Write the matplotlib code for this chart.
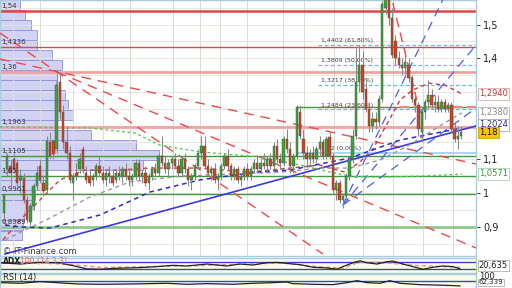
import matplotlib
matplotlib.use("Agg")
import matplotlib.pyplot as plt

# weekly candles
opens = [0.94, 1.07, 1.08, 1.10, 1.09, 1.04, 1.045, 0.98, 0.915, 0.96,
         1.02, 1.08, 1.03, 1.01, 1.15, 1.155, 1.13, 1.33, 1.24, 1.15,
         1.12, 1.03, 1.06, 1.07, 1.13, 1.06, 1.05, 1.04, 1.05, 1.08,
         1.06, 1.04, 1.06, 1.05, 1.04, 1.06, 1.05, 1.07, 1.05, 1.04,
         1.05, 1.09, 1.05, 1.06, 1.03, 1.05, 1.07, 1.06, 1.11, 1.09,
         1.07, 1.09, 1.10, 1.08, 1.06, 1.10, 1.07, 1.04, 1.05, 1.08,
         1.12, 1.14, 1.08, 1.06, 1.07, 1.04, 1.05, 1.08, 1.11, 1.08,
         1.05, 1.07, 1.04, 1.05, 1.07, 1.05, 1.07, 1.09, 1.07, 1.09,
         1.08, 1.10, 1.08, 1.14, 1.10, 1.09, 1.16, 1.13, 1.08, 1.11,
         1.24, 1.16, 1.12, 1.10, 1.12, 1.10, 1.13, 1.15, 1.11, 1.165,
         1.11, 1.01, 1.03, 0.98, 0.99, 1.05, 1.10, 1.17, 1.33, 1.38,
         1.31, 1.25, 1.20, 1.22, 1.21, 1.28, 1.55, 1.58, 1.52, 1.45,
         1.40, 1.38, 1.37, 1.38, 1.34, 1.28, 1.26, 1.18, 1.24, 1.27,
         1.29, 1.26, 1.27, 1.25, 1.27, 1.25, 1.26, 1.19, 1.16, 1.17]
highs = [1.00, 1.12, 1.10, 1.12, 1.10, 1.07, 1.06, 0.99, 0.97, 1.03,
         1.08, 1.10, 1.05, 1.17, 1.18, 1.16, 1.36, 1.36, 1.26, 1.20,
         1.14, 1.06, 1.09, 1.12, 1.14, 1.08, 1.07, 1.06, 1.09, 1.11,
         1.08, 1.07, 1.08, 1.07, 1.07, 1.08, 1.08, 1.09, 1.07, 1.06,
         1.10, 1.10, 1.07, 1.08, 1.06, 1.08, 1.09, 1.12, 1.17, 1.11,
         1.10, 1.11, 1.12, 1.10, 1.11, 1.12, 1.08, 1.06, 1.09, 1.13,
         1.17, 1.17, 1.10, 1.08, 1.09, 1.06, 1.09, 1.12, 1.13, 1.09,
         1.08, 1.08, 1.06, 1.08, 1.09, 1.08, 1.10, 1.11, 1.10, 1.12,
         1.11, 1.12, 1.15, 1.16, 1.12, 1.17, 1.19, 1.15, 1.12, 1.26,
         1.26, 1.19, 1.14, 1.13, 1.14, 1.14, 1.17, 1.16, 1.17, 1.18,
         1.12, 1.04, 1.04, 1.00, 1.06, 1.11, 1.19, 1.43, 1.44, 1.42,
         1.34, 1.27, 1.24, 1.24, 1.29, 1.57, 1.61, 1.60, 1.55, 1.47,
         1.42, 1.40, 1.42, 1.40, 1.35, 1.30, 1.27, 1.25, 1.28, 1.335,
         1.31, 1.29, 1.29, 1.28, 1.28, 1.27, 1.27, 1.21, 1.20, 1.19]
lows = [0.91, 1.05, 1.02, 1.06, 1.02, 1.00, 0.97, 0.91, 0.905, 0.95,
        1.01, 1.03, 0.99, 1.00, 1.10, 1.10, 1.12, 1.22, 1.13, 1.10,
        1.03, 0.98, 1.04, 1.06, 1.06, 1.03, 1.02, 1.02, 1.04, 1.05,
        1.03, 1.02, 1.03, 1.02, 1.03, 1.04, 1.03, 1.04, 1.02, 1.02,
        1.04, 1.04, 1.03, 1.02, 1.01, 1.04, 1.05, 1.05, 1.08, 1.06,
        1.05, 1.07, 1.07, 1.05, 1.05, 1.06, 1.02, 1.01, 1.04, 1.07,
        1.10, 1.07, 1.05, 1.04, 1.03, 1.01, 1.04, 1.07, 1.07, 1.04,
        1.04, 1.03, 1.02, 1.04, 1.04, 1.04, 1.06, 1.06, 1.06, 1.07,
        1.06, 1.07, 1.07, 1.09, 1.07, 1.08, 1.12, 1.06, 1.06, 1.10,
        1.16, 1.10, 1.08, 1.08, 1.09, 1.09, 1.11, 1.10, 1.10, 1.10,
        1.00, 0.98, 0.97, 0.955, 0.98, 1.04, 1.09, 1.16, 1.30, 1.28,
        1.24, 1.18, 1.18, 1.19, 1.20, 1.27, 1.53, 1.50, 1.40, 1.38,
        1.37, 1.35, 1.35, 1.33, 1.27, 1.24, 1.17, 1.15, 1.22, 1.25,
        1.25, 1.24, 1.24, 1.24, 1.24, 1.24, 1.18, 1.15, 1.13, 1.16]
closes = [0.995, 1.11, 1.06, 1.07, 1.03, 1.05, 0.98, 0.92, 0.96, 1.02,
          1.06, 1.04, 1.005, 1.155, 1.11, 1.115, 1.32, 1.24, 1.15, 1.12,
          1.04, 1.05, 1.05, 1.10, 1.07, 1.04, 1.03, 1.05, 1.08, 1.06,
          1.04, 1.06, 1.05, 1.03, 1.06, 1.05, 1.07, 1.05, 1.04, 1.05,
          1.09, 1.05, 1.06, 1.03, 1.05, 1.07, 1.06, 1.11, 1.09, 1.07,
          1.09, 1.10, 1.08, 1.06, 1.10, 1.07, 1.04, 1.05, 1.08, 1.12,
          1.14, 1.08, 1.06, 1.07, 1.04, 1.05, 1.08, 1.11, 1.08, 1.05,
          1.07, 1.04, 1.05, 1.07, 1.05, 1.07, 1.09, 1.07, 1.09, 1.08,
          1.10, 1.08, 1.14, 1.10, 1.09, 1.16, 1.13, 1.08, 1.11, 1.255,
          1.17, 1.12, 1.10, 1.12, 1.10, 1.13, 1.15, 1.11, 1.16, 1.11,
          1.01, 1.03, 0.98, 0.99, 1.05, 1.10, 1.17, 1.33, 1.38, 1.30,
          1.25, 1.20, 1.22, 1.21, 1.28, 1.56, 1.59, 1.52, 1.41, 1.40,
          1.38, 1.37, 1.39, 1.34, 1.28, 1.26, 1.19, 1.24, 1.27, 1.29,
          1.26, 1.27, 1.25, 1.27, 1.25, 1.26, 1.19, 1.16, 1.17, 1.18]

# volume profile (price bins, relative volume)
vp_low = [1.543, 1.514, 1.484, 1.454, 1.424, 1.395, 1.365, 1.335, 1.306, 1.276,
          1.246, 1.217, 1.187, 1.157, 1.128, 1.098, 1.068, 1.039, 1.009, 0.979,
          0.950, 0.920, 0.890, 0.860]
vp_vol = [20, 25, 31, 37, 37, 52, 62, 57, 56, 65, 68, 73, 55, 91, 136, 159, 143,
          47, 45, 35, 33, 24, 23, 22]
vp_step = 0.0297

# horizontal levels
red_levels = [1.54, 1.4336]
pink_levels = [1.36, 1.1963]
green_levels = [1.1105, 1.05, 0.9961]
green_wide = 0.8989
level_txt = ["1,54", "1,4336", "1,36", "1,1963", "1,1105", "1,05", "0,9961", "0,8989"]
level_val = [1.54, 1.4336, 1.36, 1.1963, 1.1105, 1.05, 0.9961, 0.8989]

# fibonacci retracement
fib_val = [1.4402, 1.3809, 1.3217, 1.2484]
fib_txt = ["1,4402 (61,80%)", "1,3809 (50,00%)", "1,3217 (38,20%)", "1,2484 (23,60%)"]
fib_zero = 1.12
fib_start, fib_zero_start = 95.4, 89
resist_green, resist_start = 1.2565, 89
resist_pink, pink_start = 1.254, 120.4

# drawn trend lines ((x0, y0), (x1, y1))
red_fan = [((-1.22, 1.3976), (143.5, 1.086)),
           ((-1.22, 1.4748), (96.96, 0.819)),
           ((16.1, 1.359), (143.5, 0.837))]
red_steep = ((118.2, 1.564), (125.5, 1.276))
blue_trend = ((0.3, 0.819), (143.5, 1.199))
gann = [((103, 0.964), (133.4, 1.573)),
        ((103, 0.964), (143.5, 1.439)),
        ((103, 0.964), (143.5, 1.252))]

# moving averages (index, price)
ma_red_x = [-0.3, 4.9, 10.9, 17, 24.6, 34.3, 44.4, 59.6, 74.8, 86.9, 96, 103.6,
            108.2, 112.2, 117.3, 120.4, 124.3, 129.2, 134.1, 139.2]
ma_red_y = [0.861, 0.920, 0.979, 1.039, 1.068, 1.068, 1.074, 1.074, 1.062, 1.074,
            1.083, 1.062, 1.092, 1.131, 1.220, 1.276, 1.306, 1.326, 1.320, 1.294]
ma_gray_x = [0.3, 14, 26.1, 38.3, 53.5, 68.7, 83.9, 96, 105.2, 114.3, 123.4, 132.5, 139.2]
ma_gray_y = [0.861, 0.926, 0.988, 1.033, 1.050, 1.056, 1.062, 1.074, 1.074, 1.098,
             1.143, 1.199, 1.238]
ma_blue_x = [0.3, 5, 14, 29.2, 44.4, 59.6, 76.6, 86.9, 105.2, 120.4, 139.2]
ma_blue_y = [0.905, 0.899, 0.896, 0.935, 1.003, 1.039, 1.062, 1.068, 1.104, 1.157, 1.193]
ma_green_x = [-1.22, 26.1, 39.8, 47.4, 59.6, 77.8, 90, 99.1, 105.2, 114.3, 126.5, 139.2]
ma_green_y = [1.196, 1.193, 1.178, 1.142, 1.122, 1.107, 1.083, 1.062, 1.050, 1.047,
              1.050, 1.056]

# ADX panel
adx_x = [-1.2, 4.9, 10.9, 16.1, 20.1, 25.2, 29.2, 34.3, 41.3, 46.5, 51.4, 55.6,
         61.7, 67.8, 71.7, 75.7, 79.9, 83, 86, 90, 94, 98.2, 101.2, 103, 106.1,
         108.2, 110.3, 113.4, 116.4, 118.2, 121.3, 124.3, 127.4, 130.4, 133.4,
         136.5, 138.6]
adx_y = [38.1, 34.3, 39.0, 38.1, 31.4, 20.0, 19.0, 21.9, 23.8, 26.7, 30.5, 28.6,
         34.3, 28.6, 34.3, 31.4, 38.1, 39.0, 36.2, 32.4, 24.8, 22.9, 19.0, 26.7,
         38.1, 43.8, 38.1, 34.3, 41.0, 42.9, 34.3, 26.7, 19.0, 24.8, 28.6, 26.7,
         20.6]
di_x = [-1.2, 10, 20, 30, 45, 60, 75, 85, 95, 103, 108, 116, 125, 133, 138.6]
di_y = [36, 40, 33, 24, 27, 30, 35, 37, 27, 22, 40, 38, 30, 27, 25]

# RSI panel
rsi_x = [-1.2, 4.9, 10.9, 16.1, 22.2, 29.2, 39.2, 49.5, 55.6, 61.7, 69.6, 75.7,
         81.8, 86, 87.8, 94, 100, 104.3, 107.3, 110.3, 114.3, 117.3, 120.4,
         126.4, 130.4, 135.6, 138.6]
rsi_y = [74.8, 72.3, 78.6, 74.8, 69.8, 68.5, 69.8, 72.3, 68.5, 71, 68.5, 72.3,
         74.8, 77.3, 71, 68.5, 67.2, 74.8, 82.3, 74.8, 72.3, 82.3, 72.3, 67.2,
         66, 64, 62.3]

vgrid = [2.7, 10.9, 21, 30.1, 38.3, 51.4, 59.6, 65.7, 73.9, 84.8, 91.2, 100.3,
         109.1, 118.2, 127.4, 136.5]
hgrid = [0.85, 0.9, 0.95, 1.0, 1.05, 1.1, 1.15, 1.2, 1.25, 1.3, 1.35, 1.4, 1.45, 1.5, 1.55]

W, H = 512, 288
XLIM = (-1.22, 143.5)
YLIM = (0.8131, 1.5727)
fig = plt.figure(figsize=(W / 100, H / 100), dpi=100, facecolor="white")


def box(x0, y0, x1, y1):
    return [x0 / W, 1 - y1 / H, (x1 - x0) / W, (y1 - y0) / H]


def frame(a):
    for s in a.spines.values():
        s.set_color("#a9cbdc")
        s.set_linewidth(1.0)


# volume profile sits under the price axes
axv = fig.add_axes(box(0, 0, 476, 256), facecolor="#fbfbec")
axv.set_xlim(0, 476)
axv.set_ylim(*YLIM)
axv.barh(vp_low, vp_vol, height=vp_step * 0.96, left=0, align="edge",
         color="#d2d2f5", edgecolor="#8f8fd6", linewidth=0.6)
axv.axis("off")

ax = fig.add_axes(box(0, 0, 476, 256))
ax.patch.set_visible(False)
ax.set_xlim(*XLIM)
ax.set_ylim(*YLIM)
frame(ax)

for g in hgrid:
    ax.axhline(g, color="#e4e4dc", lw=0.6, zorder=0)
for g in vgrid:
    ax.axvline(g, color="#dcdcd4", lw=0.7, zorder=0)

for v in red_levels:
    ax.axhline(v, color="#e24545", lw=1.8 if v == 1.54 else 1.0, zorder=2)
for v in pink_levels:
    ax.axhline(v, color="#f2a3a3", lw=2.0, zorder=2)
for v in green_levels:
    ax.axhline(v, color="#3f9a3f", lw=1.0, zorder=2)
ax.axhline(green_wide, color="#8fc98f", lw=2.0, zorder=2)
ax.plot([resist_start, XLIM[1]], [resist_green] * 2, color="#3f9a3f", lw=1.0, zorder=2)
ax.plot([resist_start, resist_start], [closes[89] - 0.005, resist_green], color="#3f9a3f", lw=1.0)
ax.plot([pink_start, XLIM[1]], [resist_pink] * 2, color="#f08a8a", lw=1.6,
        ls=(0, (4, 2)), zorder=2)

for v, t in zip(fib_val, fib_txt):
    ax.plot([fib_start, XLIM[1]], [v, v], color="#5ec0ee", lw=0.9, ls=(0, (3, 2)), zorder=2)
    ax.text(fib_start + 1, v + 0.004, t, fontsize=4.5, color="#404040", va="bottom")
ax.plot([fib_zero_start, XLIM[1]], [fib_zero] * 2, color="#8fd3f0", lw=1.2, zorder=2)
ax.text(fib_start + 1, fib_zero + 0.004, "1,12 (0,00%)", fontsize=4.5, color="#404040", va="bottom")

for (p0, p1) in red_fan:
    ax.plot([p0[0], p1[0]], [p0[1], p1[1]], color="#f04848", lw=1.0, ls=(0, (7, 5)), zorder=3)
ax.plot([red_steep[0][0], red_steep[1][0]], [red_steep[0][1], red_steep[1][1]],
        color="#f04848", lw=1.0, ls=(0, (7, 4)), zorder=3)
ax.plot([blue_trend[0][0], blue_trend[1][0]], [blue_trend[0][1], blue_trend[1][1]],
        color="#3a3ae0", lw=1.2, zorder=3)
for (p0, p1) in gann:
    ax.plot([p0[0], p1[0]], [p0[1], p1[1]], color="#4a5ff0", lw=0.9, ls=(0, (7, 5)), zorder=3)

ax.plot(ma_red_x, ma_red_y, color="#d03a3a", lw=1.0, ls=(0, (3, 2.5)), zorder=3)
ax.plot(ma_gray_x, ma_gray_y, color="#9a9a9a", lw=1.0, ls=(0, (3, 2.5)), zorder=3)
ax.plot(ma_blue_x, ma_blue_y, color="#2a2ad0", lw=1.1, ls=(0, (3, 2.5)), zorder=3)
ax.plot(ma_green_x, ma_green_y, color="#55cc55", lw=1.0, ls=(0, (2, 2)), zorder=3)

idx = list(range(len(closes)))
ax.vlines(idx, lows, highs, color="#8a8a8a", lw=0.8, zorder=4)
body_low = [min(o, c) for o, c in zip(opens, closes)]
body_h = [max(abs(c - o), 0.003) for o, c in zip(opens, closes)]
body_col = ["#36a636" if c >= o else "#cc4420" for o, c in zip(opens, closes)]
ax.bar(idx, body_h, bottom=body_low, width=0.72, color=body_col,
       edgecolor="#4a4a4a", linewidth=0.3, zorder=5)

for t, v in zip(level_txt, level_val):
    ax.text(-0.9, v + 0.006, t, fontsize=5, color="#333333", va="bottom", zorder=6)

ax.text(3 / 476, 0.016, "\u00a9 IT-Finance.com", transform=ax.transAxes,
        fontsize=6, color="#3c3c3c", va="center")

ax.set_xticks([])
ax.yaxis.tick_right()
ax.set_yticks([0.9, 1.0, 1.1, 1.4, 1.5])
ax.set_yticklabels(["0,9", "1", "1,1", "1,4", "1,5"])
ax.tick_params(axis="y", length=3, pad=2, labelsize=7, colors="#222222", width=0.6)

tr = ax.get_yaxis_transform()
tags = [(1.2940, "1,2940", "#c43434", "white", "#e6a6a6"),
        (1.2380, "1,2380", "#888888", "white", "#b8b8b8"),
        (1.2024, "1,2024", "#2a2aa0", "white", "#a8a8d8"),
        (1.18, "1,18", "#111111", "#f4c400", "#d4a400"),
        (1.0571, "1,0571", "#34a034", "white", "#a6d6a6")]
for v, t, fg, bg, ec in tags:
    ax.text(1.006, v, t, transform=tr, fontsize=6, color=fg, va="center", ha="left",
            clip_on=False, bbox=dict(boxstyle="square,pad=0.15", fc=bg, ec=ec, lw=0.6))

# ADX
axa = fig.add_axes(box(0, 258, 476, 273), facecolor="#fbfbec")
frame(axa)
axa.set_xlim(*XLIM)
axa.set_ylim(8, 52)
axa.axhline(40, color="#4040d0", lw=1.0)
axa.axhline(20, color="#4040d0", lw=1.0)
axa.plot(di_x, di_y, color="#f08c8c", lw=1.0, ls=(0, (3, 2)))
axa.plot(adx_x, adx_y, color="#222222", lw=0.9)
axa.set_xticks([])
axa.set_yticks([])
axa.text(3 / 476, 0.78, "ADX", transform=axa.transAxes, fontsize=5.5,
         fontweight="bold", color="#222222", va="center")
axa.text(20 / 476, 0.78, "100 (14,3,3)", transform=axa.transAxes, fontsize=5.5,
         color="#e87070", va="center")
axa.text(1.006, 0.5, "20,635", transform=axa.transAxes, fontsize=6, color="#222222",
         va="center", clip_on=False,
         bbox=dict(boxstyle="square,pad=0.15", fc="white", ec="#b0b0b0", lw=0.6))

# RSI
axr = fig.add_axes(box(0, 274, 476, 300), facecolor="#fbfbec")
frame(axr)
axr.set_xlim(*XLIM)
axr.set_ylim(9, 107.5)
axr.axhline(80, color="#4040d0", lw=1.0)
axr.plot(rsi_x, rsi_y, color="#222222", lw=0.9)
axr.set_xticks([])
axr.set_yticks([])
axr.text(3 / 476, 93, "RSI (14)", transform=axr.get_yaxis_transform(), fontsize=6,
         color="#222222", va="center")
axr.text(1.006, 99, "100", transform=axr.get_yaxis_transform(), fontsize=6,
         color="#222222", va="center", clip_on=False)
axr.text(1.006, 76, "62,339", transform=axr.get_yaxis_transform(), fontsize=5,
         color="#222222", va="center", clip_on=False,
         bbox=dict(boxstyle="square,pad=0.1", fc="white", ec="#b0b0b0", lw=0.6))

fig.savefig("out.png", dpi=100, facecolor=fig.get_facecolor())
